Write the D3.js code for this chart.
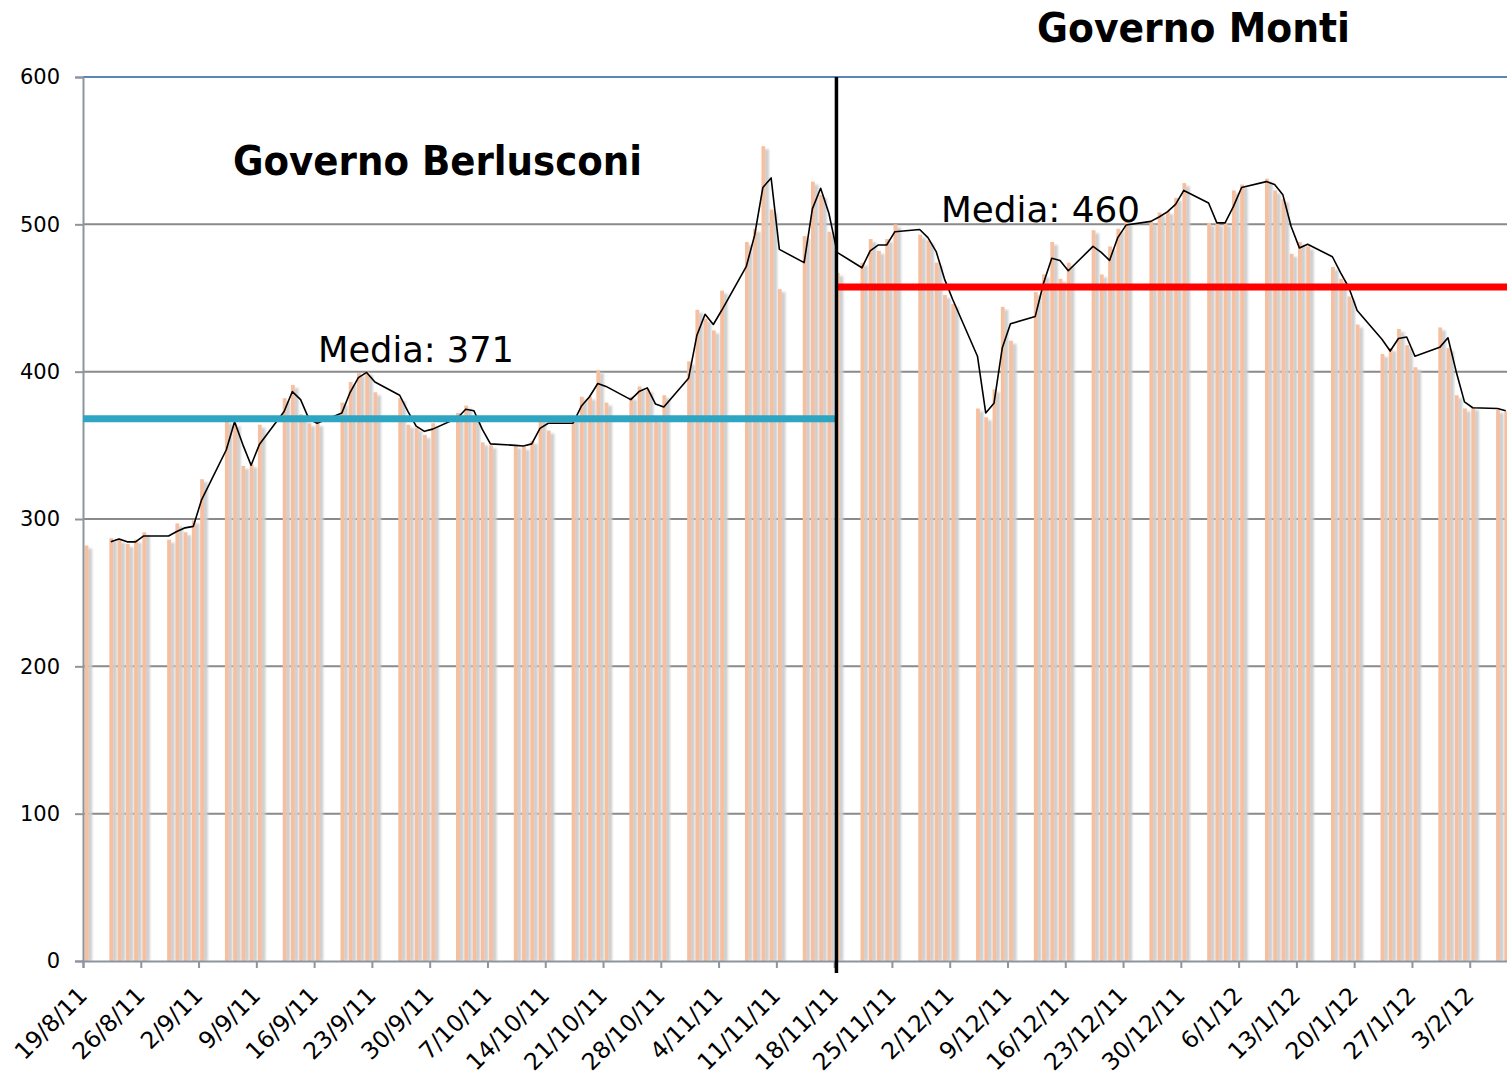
<!DOCTYPE html>
<html>
<head>
<meta charset="utf-8">
<script src="https://cdn.jsdelivr.net/npm/d3@7/dist/d3.min.js"></script>
<style>
  body { margin: 0; background: #fff; }
  text { font-family: 'DejaVu Sans', sans-serif; }
</style>
</head>
<body>
<div id="chart"></div>
<script>
// daily values (trading days only)
const dates = [
  '19/8/11',
  '22/8/11', '23/8/11', '24/8/11', '25/8/11', '26/8/11',
  '29/8/11', '30/8/11', '31/8/11', '1/9/11', '2/9/11',
  '5/9/11', '6/9/11', '7/9/11', '8/9/11', '9/9/11',
  '12/9/11', '13/9/11', '14/9/11', '15/9/11', '16/9/11',
  '19/9/11', '20/9/11', '21/9/11', '22/9/11', '23/9/11',
  '26/9/11', '27/9/11', '28/9/11', '29/9/11', '30/9/11',
  '3/10/11', '4/10/11', '5/10/11', '6/10/11', '7/10/11',
  '10/10/11', '11/10/11', '12/10/11', '13/10/11', '14/10/11',
  '17/10/11', '18/10/11', '19/10/11', '20/10/11', '21/10/11',
  '24/10/11', '25/10/11', '26/10/11', '27/10/11', '28/10/11',
  '31/10/11', '1/11/11', '2/11/11', '3/11/11', '4/11/11',
  '7/11/11', '8/11/11', '9/11/11', '10/11/11', '11/11/11',
  '14/11/11', '15/11/11', '16/11/11', '17/11/11', '18/11/11',
  '21/11/11', '22/11/11', '23/11/11', '24/11/11', '25/11/11',
  '28/11/11', '29/11/11', '30/11/11', '1/12/11', '2/12/11',
  '5/12/11', '6/12/11', '7/12/11', '8/12/11', '9/12/11',
  '12/12/11', '13/12/11', '14/12/11', '15/12/11', '16/12/11',
  '19/12/11', '20/12/11', '21/12/11', '22/12/11', '23/12/11',
  '26/12/11', '27/12/11', '28/12/11', '29/12/11', '30/12/11',
  '2/1/12', '3/1/12', '4/1/12', '5/1/12', '6/1/12',
  '9/1/12', '10/1/12', '11/1/12', '12/1/12', '13/1/12', '14/1/12',
  '17/1/12', '18/1/12', '19/1/12', '20/1/12',
  '23/1/12', '24/1/12', '25/1/12', '26/1/12', '27/1/12',
  '30/1/12', '31/1/12', '1/2/12', '2/2/12', '3/2/12',
  '6/2/12', '7/2/12'
];

const values = [
  282,
  287, 286, 283, 286, 291,
  286, 297, 291, 299, 327,
  367, 365, 336, 337, 364,
  382, 391, 371, 365, 365,
  379, 393, 399, 400, 386,
  382, 364, 362, 357, 365,
  372, 377, 370, 352, 350,
  350, 349, 353, 370, 360,
  370, 383, 383, 401, 379,
  383, 390, 388, 368, 384,
  407, 442, 436, 428, 455,
  488, 497, 553, 510, 456,
  492, 529, 520, 495, 467,
  474, 490, 482, 490, 500,
  493, 489, 474, 452, 446,
  375, 369, 388, 444, 421,
  454, 466, 488, 463, 474,
  496, 466, 485, 497, 502,
  502, 508, 509, 518, 528,
  501, 501, 501, 523, 527,
  531, 523, 517, 480, 488, 485,
  471, 463, 451, 432,
  412, 416, 429, 418, 403,
  430, 416, 384, 375, 376,
  374, 373
];

const tickLabels = [
  '19/8/11', '26/8/11', '2/9/11', '9/9/11', '16/9/11', '23/9/11', '30/9/11',
  '7/10/11', '14/10/11', '21/10/11', '28/10/11', '4/11/11', '11/11/11',
  '18/11/11', '25/11/11', '2/12/11', '9/12/11', '16/12/11', '23/12/11',
  '30/12/11', '6/1/12', '13/1/12', '20/1/12', '27/1/12', '3/2/12'
];
const yTicks = [0, 100, 200, 300, 400, 500, 600];

// the two governments
const periodNames = ['Governo Berlusconi', 'Governo Monti'];
const periodStart = ['19/8/11', '18/11/11'];
const periodEnd = ['18/11/11', '8/2/12'];
const meanLabels = ['Media: 371', 'Media: 460'];
const meanValues = [368, 457.5];
const meanColors = ['#2fa5c4', '#ff0000'];

const W = 1507;
const H = 1083;
const margin = {top: 77, left: 83, bottom: 122};

const parse = d3.utcParse('%d/%m/%y');

const x = d3.scaleUtc()
    .domain([parse('19/8/11'), parse('8/2/12')])
    .range([margin.left, 1511]);
const y = d3.scaleLinear()
    .domain([0, 600])
    .range([H - margin.bottom, margin.top]);

const svg = d3.select('#chart')
    .append('svg')
    .attr('width', W)
    .attr('height', H);

const defs = svg.append('defs');
defs.append('clipPath')
    .attr('id', 'plot')
    .append('rect')
    .attr('x', margin.left)
    .attr('y', 0)
    .attr('width', W - margin.left)
    .attr('height', H);
defs.append('filter')
    .attr('id', 'blur')
    .append('feGaussianBlur')
    .attr('stdDeviation', 0.8);

const data = dates.map((d, i) => ({date: parse(d), value: values[i]}));

// grid
svg.append('g')
    .selectAll('line')
    .data(yTicks.filter((t) => t > 0))
    .join('line')
    .attr('x1', margin.left)
    .attr('x2', W)
    .attr('y1', (d) => y(d))
    .attr('y2', (d) => y(d))
    .attr('stroke', (d) => d === 600 ? '#5b84b8' : '#8a8a8a')
    .attr('stroke-width', 2);

const plot = svg.append('g').attr('clip-path', 'url(#plot)');

// bar shadows then bars
plot.append('g')
    .attr('filter', 'url(#blur)')
    .selectAll('rect')
    .data(data)
    .join('rect')
    .attr('x', (d) => x(d.date) + 4.5)
    .attr('y', (d) => y(d.value) + 3)
    .attr('width', 4.6)
    .attr('height', (d) => y(0) - y(d.value) - 3)
    .attr('fill', '#cdcdcd');

plot.append('g')
    .selectAll('rect')
    .data(data)
    .join('rect')
    .attr('x', (d) => x(d.date) + 1.6)
    .attr('y', (d) => y(d.value))
    .attr('width', 3.8)
    .attr('height', (d) => y(0) - y(d.value))
    .attr('fill', '#f6bf9f');

// axes
const yAxis = d3.axisLeft(y)
    .tickValues(yTicks)
    .tickSize(8)
    .tickPadding(15);
const gy = svg.append('g')
    .attr('transform', `translate(${margin.left},0)`)
    .call(yAxis);

const xAxis = d3.axisBottom(x)
    .tickValues(tickLabels.map(parse))
    .tickSize(7)
    .tickFormat((d, i) => tickLabels[i]);
const gx = svg.append('g')
    .attr('transform', `translate(0,${y(0)})`)
    .call(xAxis);

svg.selectAll('.domain').attr('stroke', '#8c95a0').attr('stroke-width', 2);
svg.selectAll('.tick line').attr('stroke', '#8c95a0').attr('stroke-width', 2);
gy.selectAll('text')
    .attr('font-size', 21)
    .attr('fill', '#000');
gx.selectAll('text')
    .attr('font-size', 23.5)
    .attr('fill', '#000')
    .attr('text-anchor', 'end')
    .attr('dy', null)
    .attr('y', null)
    .attr('transform', 'translate(5,36) rotate(-45)');

// mean lines
svg.append('g')
    .selectAll('line')
    .data(meanValues)
    .join('line')
    .attr('x1', (d, i) => i === 0 ? margin.left : x(parse(periodStart[i])) + 3)
    .attr('x2', (d, i) => i === 0 ? x(parse(periodEnd[i])) + 2 : W)
    .attr('y1', (d) => y(d))
    .attr('y2', (d) => y(d))
    .attr('stroke', (d, i) => meanColors[i])
    .attr('stroke-width', 7);

// 2-period moving average trendline
const trend = data.slice(1).map((d, i) => ({
  date: d.date,
  value: (data[i].value + d.value) / 2
}));
plot.append('path')
    .datum(trend)
    .attr('fill', 'none')
    .attr('stroke', '#000')
    .attr('stroke-width', 1.6)
    .attr('stroke-linejoin', 'round')
    .attr('d', d3.line()
        .x((d) => x(d.date) + 3)
        .y((d) => y(d.value)));

// change of government
const xSplit = x(parse(periodStart[1])) + 2.3;
svg.append('line')
    .attr('x1', xSplit + 2)
    .attr('x2', xSplit + 2)
    .attr('y1', margin.top + 2)
    .attr('y2', y(0) + 14)
    .attr('stroke', '#bbb')
    .attr('stroke-width', 3)
    .attr('filter', 'url(#blur)');
svg.append('line')
    .attr('x1', xSplit)
    .attr('x2', xSplit)
    .attr('y1', margin.top)
    .attr('y2', y(0) + 12)
    .attr('stroke', '#000')
    .attr('stroke-width', 3.5);

// labels
svg.append('text')
    .attr('x', 233)
    .attr('y', 175)
    .attr('font-size', 40)
    .attr('font-weight', 'bold')
    .attr('textLength', 409)
    .attr('lengthAdjust', 'spacingAndGlyphs')
    .text(periodNames[0]);
svg.append('text')
    .attr('x', 1037)
    .attr('y', 42)
    .attr('font-size', 40)
    .attr('font-weight', 'bold')
    .attr('textLength', 313)
    .attr('lengthAdjust', 'spacingAndGlyphs')
    .text(periodNames[1]);
svg.append('text')
    .attr('x', 318)
    .attr('y', 362)
    .attr('font-size', 35)
    .attr('textLength', 196)
    .attr('lengthAdjust', 'spacingAndGlyphs')
    .text(meanLabels[0]);
svg.append('text')
    .attr('x', 941)
    .attr('y', 222)
    .attr('font-size', 35)
    .attr('textLength', 199)
    .attr('lengthAdjust', 'spacingAndGlyphs')
    .text(meanLabels[1]);
</script>
</body>
</html>
